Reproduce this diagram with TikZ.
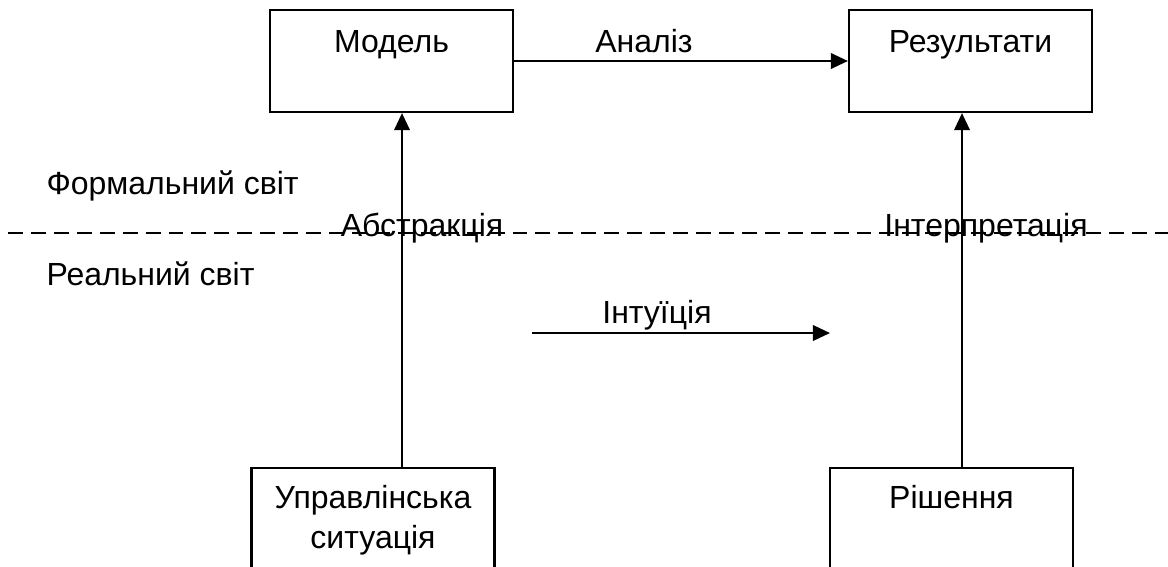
\documentclass[tikz,border=0pt]{standalone}
\usepackage{fontspec}
\setmainfont{Liberation Sans}
\usetikzlibrary{arrows.meta}

\begin{document}
\begin{tikzpicture}[x=0.375pt,y=-0.375pt,font=\fontsize{12}{15}\selectfont,
  box/.style={draw,line width=0.8pt,inner sep=0pt,minimum width=91.125pt,minimum height=38.25pt,align=center,text height=15.75pt,text depth=22.5pt},
  lowbox/.style={box,text height=15pt,text depth=23.25pt},
  arr/.style={-{Triangle[length=6.4pt,width=5.8pt]},line width=0.85pt},
  lbl/.style={inner sep=0pt,anchor=base}]
\useasboundingbox (0,0) rectangle (1168,566);
\node[box] (model) at (391.5,61) {Модель};
\node[box] (result) at (970.5,61) {Результати};
\node[lowbox,text height=30pt,text depth=8.25pt] (situation) at (373,519) {Управлінська\\ситуація};
\node[lowbox] (decision) at (951.5,519) {Рішення};
\coordinate (abstr) at (402,0);
\coordinate (interp) at (962,0);
\coordinate (intuitA) at (532,333);
\coordinate (intuitB) at (830,333);
\coordinate (lineL) at (8,233);
\coordinate (lineR) at (1168,233);
\draw[dash pattern=on 5.6pt off 3pt,line width=0.6pt] (lineL) -- (lineR);
\draw[arr] (model) -- (result);
\draw[arr] (situation.north -| abstr) -- (model.south -| abstr);
\draw[arr] (decision.north -| interp) -- (result.south -| interp);
\draw[arr] (intuitA) -- (intuitB);
\node[lbl] (analysis) at (644,52) {Аналіз};
\node[lbl] (abstraction) at (422,236) {Абстракція};
\node[lbl] (interpretation) at (986,236) {Інтерпретація};
\node[lbl] (intuition) at (657,323) {Інтуїція};
\node[lbl,anchor=base west] (formal) at (46,194) {Формальний світ};
\node[lbl,anchor=base west] (real) at (46,285) {Реальний світ};
\end{tikzpicture}
\end{document}
